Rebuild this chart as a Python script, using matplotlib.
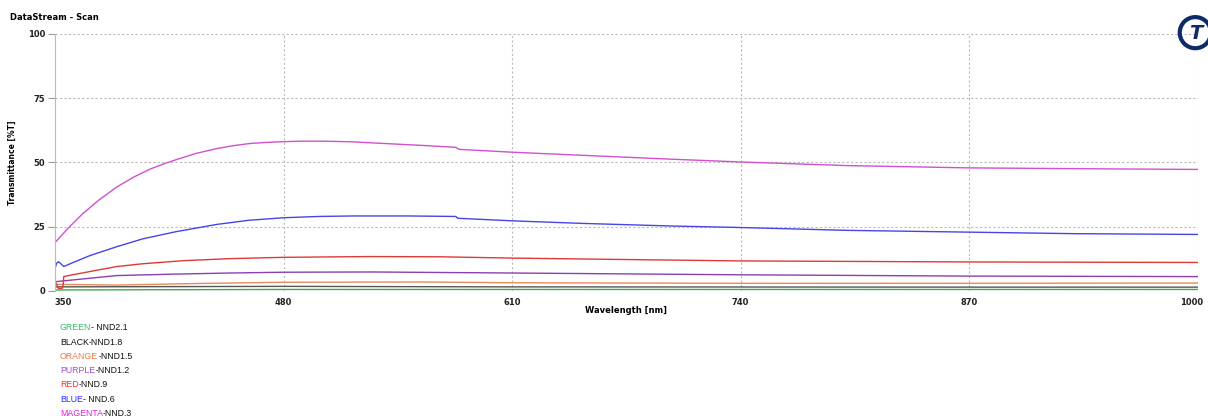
import matplotlib.pyplot as plt
import matplotlib.transforms as mtransforms
from matplotlib.offsetbox import TextArea, HPacker, AnchoredOffsetbox
from matplotlib.patches import Circle

# wavelength nodes [nm] and transmittance [%T] for each filter scan
magenta_wl = [350, 358, 366, 375, 385, 395, 404, 412, 419, 430, 442, 452, 461, 470, 480, 490,
              500, 510, 520, 540, 560, 578, 580, 610, 650, 700, 740, 800, 870, 930, 1000]
magenta_t = [18.8, 24.8, 30.2, 35.4, 40.4, 44.4, 47.4, 49.5, 51.1, 53.5, 55.4, 56.6, 57.4, 57.8, 58.1, 58.3,
             58.3, 58.2, 58, 57.3, 56.6, 55.9, 55.1, 54, 52.8, 51.3, 50.2, 48.8, 47.9, 47.6, 47.3]

blue_wl = [350, 351, 352, 354, 355, 360, 370, 385, 400, 419, 442, 460, 480, 500, 520,
           550, 578, 579, 610, 650, 700, 740, 800, 870, 930, 1000]
blue_t = [8.8, 10.8, 11.4, 10.2, 9.5, 11, 13.8, 17.2, 20.3, 23.1, 25.9, 27.5, 28.5, 29, 29.2,
          29.2, 29, 28.3, 27.3, 26.3, 25.3, 24.7, 23.6, 22.9, 22.3, 22]

red_wl = [350, 351, 352, 354, 354.6, 355, 360, 385, 400, 423, 450, 480, 530, 570, 610, 680, 740, 870, 1000]
red_t = [3.6, 2.5, 1, 1, 2, 5.6, 6.3, 9.5, 10.6, 11.8, 12.6, 13.1, 13.4, 13.3, 12.8, 12.2, 11.7, 11.3, 11.1]

purple_wl = [350, 385, 420, 450, 480, 530, 610, 740, 870, 1000]
purple_t = [3.6, 6, 6.6, 7, 7.3, 7.4, 7, 6.3, 5.8, 5.6]

orange_wl = [350, 385, 430, 480, 560, 610, 740, 870, 1000]
orange_t = [2.6, 2.3, 2.9, 3.4, 3.5, 3.2, 3, 3, 3.1]

black_wl = [350, 480, 610, 870, 1000]
black_t = [1.6, 1.8, 1.6, 1.5, 1.5]

green_wl = [350, 480, 610, 1000]
green_t = [0.4, 0.6, 0.6, 0.6]

x_ticks = [350, 480, 610, 740, 870, 1000]
y_ticks = [0, 25, 50, 75, 100]

# legend rows: coloured name, rest of the label, colour of the name
legend_names = ['GREEN', 'BLACK', 'ORANGE', 'PURPLE', 'RED', 'BLUE', 'MAGENTA']
legend_rest = ['- NND2.1', '-NND1.8', '-NND1.5', '-NND1.2', '-NND.9', '- NND.6', '-NND.3']
legend_colors = ['#3cb86a', '#111111', '#f07a3a', '#9a4fd0', '#ff2a2a', '#2a2aff', '#e020e0']

fig = plt.figure(figsize=(12.08, 4.16), dpi=100)
ax = fig.add_axes([0.0455, 0.3005, 0.946, 0.6178])

ax.plot(green_wl, green_t, color='#3faa4a', lw=1)
ax.plot(black_wl, black_t, color='#555555', lw=1)
ax.plot(orange_wl, orange_t, color='#e8895a', lw=1)
ax.plot(purple_wl, purple_t, color='#8a3fb0', lw=1)
ax.plot(red_wl, red_t, color='#dd3a36', lw=1)
ax.plot(blue_wl, blue_t, color='#4646e6', lw=1)
ax.plot(magenta_wl, magenta_t, color='#d050d0', lw=1)

ax.set_xlim(350, 1000)
ax.set_ylim(0, 100)
ax.set_xticks(x_ticks)
ax.set_yticks(y_ticks)
ax.grid(True, color='#bbbbbb', linestyle=(0, (2, 2)), lw=0.8)
for s in ['top', 'right', 'bottom']:
    ax.spines[s].set_visible(False)
ax.spines['left'].set_color('#bbbbbb')
ax.tick_params(axis='y', length=5, color='#999999', labelsize=6, pad=2)
ax.tick_params(axis='x', length=0, labelsize=6, pad=5)
for lbl in ax.get_xticklabels() + ax.get_yticklabels():
    lbl.set_fontweight('bold')
    lbl.set_color('#222222')
ax.get_xticklabels()[0].set_ha('left')
last = ax.get_xticklabels()[-1]
last.set_transform(last.get_transform() +
                   mtransforms.ScaledTranslation(-6 / 100, 0, fig.dpi_scale_trans))
ax.set_xlabel('Wavelength [nm]', fontsize=6, fontweight='bold', labelpad=-1)
ax.set_ylabel('Transmittance [%T]', fontsize=5.5, fontweight='bold')
ax.yaxis.set_label_coords(-0.033, 0.5)

fig.text(0.008, 0.948, 'DataStream - Scan', fontsize=6, fontweight='bold', va='bottom')

# round "T" badge in the top right corner
logo_ax = fig.add_axes([0.9745, 0.878, 0.03, 0.087])
logo_ax.set_xlim(0, 1)
logo_ax.set_ylim(0, 1)
logo_ax.set_aspect('equal')
logo_ax.axis('off')
logo_ax.add_patch(Circle((0.5, 0.5), 0.43, fill=False, lw=3, ec='#0d2b6b'))
logo_ax.text(0.5, 0.47, 'T', fontsize=14, fontweight='bold', fontstyle='italic',
             color='#0d2b6b', ha='center', va='center')

# legend typed below the chart, name part coloured
for i, (name, rest, c) in enumerate(zip(legend_names, legend_rest, legend_colors)):
    box = HPacker(children=[
        TextArea(name, textprops=dict(color=c, fontsize=6.3, family='Liberation Sans')),
        TextArea(rest, textprops=dict(color='#111111', fontsize=6.3, family='Liberation Sans')),
    ], sep=0, pad=0)
    y = 1 - (328 + i * 14.2) / 416
    anchored = AnchoredOffsetbox(loc='center left', child=box, pad=0, borderpad=0, frameon=False,
                                 bbox_to_anchor=(60 / 1208, y), bbox_transform=fig.transFigure)
    fig.add_artist(anchored)

fig.savefig('out.png', dpi=100)
